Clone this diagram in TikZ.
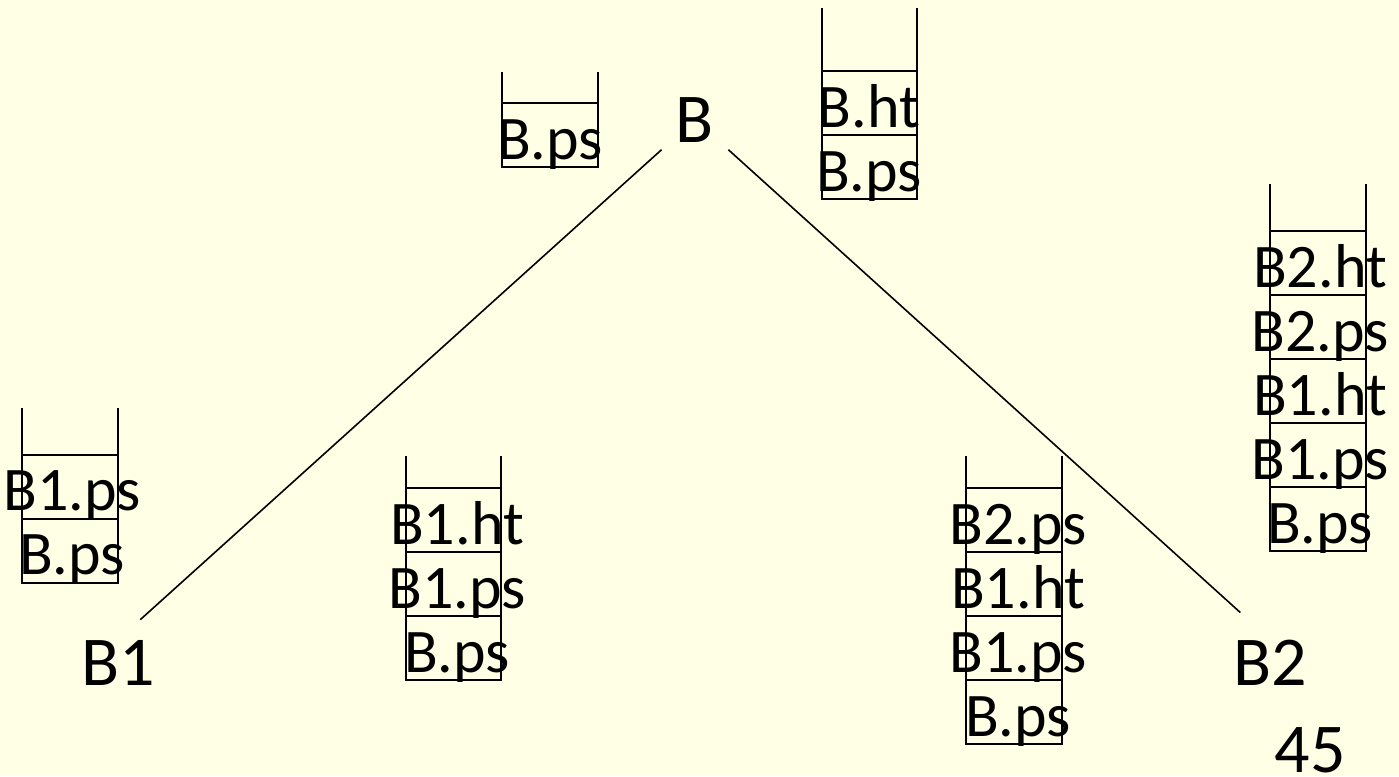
\documentclass[tikz,border=0pt]{standalone}
\usepackage{fontspec}
\setmainfont{Carlito}
\definecolor{slidebg}{HTML}{FFFFE5}
\begin{document}
\begin{tikzpicture}[x=1pt, y=-1pt,
	frame/.style={line width=2pt},
	edge/.style={line width=1.6pt},
	cell/.style={anchor=base, inner sep=0pt, font=\fontsize{62}{62}\selectfont},
	vert/.style={anchor=base, inner sep=0pt, font=\fontsize{70}{70}\selectfont}]
			\useasboundingbox (0,0) rectangle (1399,776);
			\fill[slidebg] (0,0) rectangle (1399,776);
			
			%tree
			\node[vert] (B) at (695,142) {B};
			\node[vert] (B1) at (118,685) {B1};
			\node[vert] (B2) at (1270,685) {B2};
			\node[vert] (page) at (1310,772) {45};
			\draw[edge, shorten <=45pt, shorten >=30pt] (B.center) -- (B1.north);
			\draw[edge, shorten <=45pt, shorten >=40pt] (B.center) -- (B2.north);
			
			%stack at B, first visit
			\draw[frame] (502,72) -- (502,167) -- (598,167) -- (598,72);
			\foreach \lbl [count=\i] in {B.ps}{
				\draw[frame] (502, 167-64*\i) -- (598, 167-64*\i);
				\node[cell] (a-\i) at (550, 167-64*\i+56) {\lbl};
			}
			
			%stack at B, after ht
			\draw[frame] (822,8) -- (822,199) -- (917,199) -- (917,8);
			\foreach \lbl [count=\i] in {B.ps, B.ht}{
				\draw[frame] (822, 199-64*\i) -- (917, 199-64*\i);
				\node[cell] (b-\i) at (869, 199-64*\i+56) {\lbl};
			}
			
			%stack at B1
			\draw[frame] (22,408) -- (22,583) -- (118,583) -- (118,408);
			\foreach \lbl [count=\i] in {B.ps, B1.ps}{
				\draw[frame] (22, 583-64*\i) -- (118, 583-64*\i);
				\node[cell] (c-\i) at (72, 583-64*\i+55) {\lbl};
			}
			
			\draw[frame] (406,456) -- (406,680) -- (501,680) -- (501,456);
			\foreach \lbl [count=\i] in {B.ps, B1.ps, B1.ht}{
				\draw[frame] (406, 680-64*\i) -- (501, 680-64*\i);
				\node[cell] (d-\i) at (457, 680-64*\i+56) {\lbl};
			}
			
			%stack at B2
			\draw[frame] (966,456) -- (966,744) -- (1062,744) -- (1062,456);
			\foreach \lbl [count=\i] in {B.ps, B1.ps, B1.ht, B2.ps}{
				\draw[frame] (966, 744-64*\i) -- (1062, 744-64*\i);
				\node[cell] (e-\i) at (1018, 744-64*\i+56) {\lbl};
			}
			
			\draw[frame] (1270,184) -- (1270,551) -- (1366,551) -- (1366,184);
			\foreach \lbl [count=\i] in {B.ps, B1.ps, B1.ht, B2.ps, B2.ht}{
				\draw[frame] (1270, 551-64*\i) -- (1366, 551-64*\i);
				\node[cell] (f-\i) at (1320, 551-64*\i+56) {\lbl};
			}
		\end{tikzpicture}
\end{document}
